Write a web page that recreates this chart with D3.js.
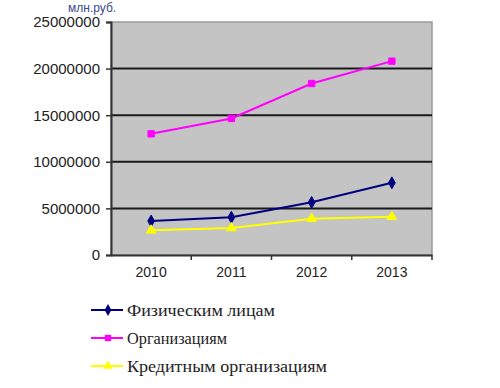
<!DOCTYPE html>
<html>
<head>
<meta charset="utf-8">
<script src="https://cdn.jsdelivr.net/npm/d3@7"></script>
<style>
  body { margin: 0; background: #fff; }
  svg { display: block; }
</style>
</head>
<body>
<div id="chart"></div>
<script>
const years = ["2010", "2011", "2012", "2013"]
const yTicks = [0, 5000000, 10000000, 15000000, 20000000, 25000000]
const fizLica = [3650000, 4050000, 5650000, 7750000]
const organizacii = [13000000, 14650000, 18400000, 20800000]
const kreditnye = [2650000, 2900000, 3900000, 4100000]
const seriesNames = ["Физическим лицам", "Организациям", "Кредитным организациям"]

const series = [
    { name: seriesNames[0], values: fizLica, color: "#000080", marker: d3.symbolDiamond },
    { name: seriesNames[1], values: organizacii, color: "#ff00ff", marker: d3.symbolSquare },
    { name: seriesNames[2], values: kreditnye, color: "#ffff00", marker: d3.symbolTriangle },
]

const width = 500
const height = 388
const marginLeft = 111
const marginRight = 68
const marginTop = 22
const marginBottom = 133

const svg = d3.select("#chart").append("svg")
    .attr("width", width)
    .attr("height", height)
    .attr("viewBox", [0, 0, width, height])

const x = d3.scaleBand()
    .domain(years)
    .range([marginLeft, width - marginRight])

const y = d3.scaleLinear()
    .domain([0, 25000000])
    .range([height - marginBottom, marginTop])

// plot area
svg.append("rect")
    .attr("x", marginLeft)
    .attr("y", marginTop)
    .attr("width", width - marginRight - marginLeft)
    .attr("height", height - marginBottom - marginTop)
    .attr("fill", "#c4c4c4")
    .attr("stroke", "#9a9a9a")
    .attr("stroke-width", 1.5)

// gridlines
svg.append("g")
    .selectAll("line")
    .data(yTicks.filter(d => d > 0 && d < 25000000))
    .join("line")
    .attr("x1", marginLeft)
    .attr("x2", width - marginRight)
    .attr("y1", d => y(d))
    .attr("y2", d => y(d))
    .attr("stroke", "#1a1a1a")
    .attr("stroke-width", 2)

// y axis
svg.append("g")
    .attr("transform", `translate(${marginLeft},0)`)
    .call(d3.axisLeft(y).tickValues(yTicks).tickFormat(d3.format("d")).tickSize(5).tickPadding(6))
    .call(g => g.select(".domain").attr("stroke", "#333").attr("stroke-width", 2))
    .call(g => g.selectAll(".tick line").attr("stroke", "#333").attr("stroke-width", 1.5))
    .call(g => g.selectAll("text")
        .attr("font-family", "Liberation Sans, Arial, sans-serif")
        .attr("font-size", 15)
        .attr("fill", "#222"))

// x axis
svg.append("g")
    .attr("transform", `translate(0,${height - marginBottom})`)
    .call(d3.axisBottom(x).tickSize(0).tickPadding(12))
    .call(g => g.select(".domain").attr("stroke", "#333").attr("stroke-width", 2))
    .call(g => g.selectAll("text")
        .attr("font-family", "Liberation Sans, Arial, sans-serif")
        .attr("font-size", 14)
        .attr("fill", "#222"))

// x tick marks between categories
svg.append("g")
    .selectAll("line")
    .data(years.slice(1).concat(["end"]))
    .join("line")
    .attr("x1", (d, i) => x(years[0]) + x.step() * (i + 1))
    .attr("x2", (d, i) => x(years[0]) + x.step() * (i + 1))
    .attr("y1", height - marginBottom)
    .attr("y2", height - marginBottom + 5)
    .attr("stroke", "#333")
    .attr("stroke-width", 1.5)

// unit label
svg.append("text")
    .attr("x", 68)
    .attr("y", 12)
    .attr("font-family", "Liberation Sans, Arial, sans-serif")
    .attr("font-size", 12)
    .attr("fill", "#3a4a8a")
    .text("млн.руб.")

const line = d3.line()
    .x((d, i) => x(years[i]) + x.bandwidth() / 2)
    .y(d => y(d))

series.forEach(s => {
    svg.append("path")
        .datum(s.values)
        .attr("fill", "none")
        .attr("stroke", s.color)
        .attr("stroke-width", 2)
        .attr("d", line)

    svg.append("g")
        .selectAll("path")
        .data(s.values)
        .join("path")
        .attr("transform", (d, i) => `translate(${x(years[i]) + x.bandwidth() / 2},${y(d)})`)
        .attr("d", d3.symbol(s.marker, 40))
        .attr("fill", s.color)
        .attr("stroke", s.color)
})

// legend
const legendY = [310, 338, 366]
const legendLen = [148, 100, 200]
const legend = svg.append("g")
    .selectAll("g")
    .data(series)
    .join("g")
    .attr("transform", (d, i) => `translate(91,${legendY[i]})`)

legend.append("line")
    .attr("x1", 0)
    .attr("x2", 32)
    .attr("stroke", d => d.color)
    .attr("stroke-width", 2)

legend.append("path")
    .attr("transform", "translate(17,0)")
    .attr("d", d => d3.symbol(d.marker, 40)())
    .attr("fill", d => d.color)

legend.append("text")
    .attr("x", 36)
    .attr("dy", "0.35em")
    .attr("font-family", "Liberation Serif, Times New Roman, serif")
    .attr("font-size", 16)
    .attr("fill", "#222")
    .attr("textLength", (d, i) => legendLen[i])
    .attr("lengthAdjust", "spacingAndGlyphs")
    .text(d => d.name)
</script>
</body>
</html>
